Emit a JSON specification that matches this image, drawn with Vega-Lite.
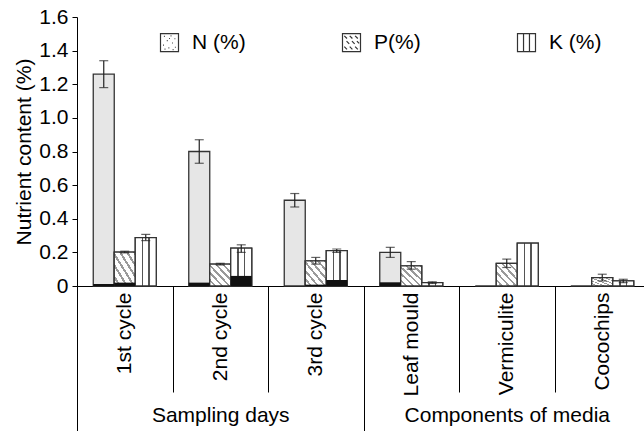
{
  "$schema": "https://vega.github.io/schema/vega-lite/v6.json",
  "autosize": {"type": "none"},
  "padding": {"left": 77, "top": 17, "right": 0, "bottom": 145},
  "width": 567,
  "height": 269,
  "background": "white",
  "config": {
    "font": "Liberation Sans",
    "view": {"stroke": null},
    "axis": {"grid": false, "domainColor": "#000", "tickColor": "#000", "labelColor": "#000", "titleColor": "#000", "labelFont": "Liberation Sans", "titleFont": "Liberation Sans"},
    "axisY": {"labelOverlap": false}
  },
  "datasets": {
    "bars": [
      {"cat": "1st cycle", "series": "N (%)", "value": 1.26, "lo": 1.18, "hi": 1.34, "base": 0.012},
      {"cat": "1st cycle", "series": "P(%)", "value": 0.202, "lo": 0.197, "hi": 0.207, "base": 0.02},
      {"cat": "1st cycle", "series": "K (%)", "value": 0.288, "lo": 0.27, "hi": 0.307, "base": 0},
      {"cat": "2nd cycle", "series": "N (%)", "value": 0.80, "lo": 0.73, "hi": 0.87, "base": 0.02},
      {"cat": "2nd cycle", "series": "P(%)", "value": 0.13, "lo": 0.125, "hi": 0.135, "base": 0},
      {"cat": "2nd cycle", "series": "K (%)", "value": 0.225, "lo": 0.20, "hi": 0.245, "base": 0.06},
      {"cat": "3rd cycle", "series": "N (%)", "value": 0.51, "lo": 0.47, "hi": 0.55, "base": 0},
      {"cat": "3rd cycle", "series": "P(%)", "value": 0.15, "lo": 0.13, "hi": 0.17, "base": 0.008},
      {"cat": "3rd cycle", "series": "K (%)", "value": 0.21, "lo": 0.20, "hi": 0.22, "base": 0.035},
      {"cat": "Leaf mould", "series": "N (%)", "value": 0.20, "lo": 0.17, "hi": 0.23, "base": 0.022},
      {"cat": "Leaf mould", "series": "P(%)", "value": 0.12, "lo": 0.10, "hi": 0.145, "base": 0},
      {"cat": "Leaf mould", "series": "K (%)", "value": 0.02, "lo": 0.015, "hi": 0.025, "base": 0},
      {"cat": "Vermiculite", "series": "N (%)", "value": 0, "lo": null, "hi": null, "base": 0},
      {"cat": "Vermiculite", "series": "P(%)", "value": 0.135, "lo": 0.11, "hi": 0.16, "base": 0},
      {"cat": "Vermiculite", "series": "K (%)", "value": 0.255, "lo": null, "hi": null, "base": 0},
      {"cat": "Cocochips", "series": "N (%)", "value": 0, "lo": null, "hi": null, "base": 0},
      {"cat": "Cocochips", "series": "P(%)", "value": 0.05, "lo": 0.03, "hi": 0.07, "base": 0},
      {"cat": "Cocochips", "series": "K (%)", "value": 0.03, "lo": 0.02, "hi": 0.04, "base": 0}
    ],
    "groups": [
      {"group": "Sampling days"},
      {"group": "Components of media"}
    ]
  },
  "layer": [
    {
      "data": {"name": "bars"},
      "layer": [
        {
          "mark": {"type": "bar", "fill": "#e6e6e6", "stroke": "#333", "strokeWidth": 1.3},
          "encoding": {
            "x": {
              "field": "cat", "type": "nominal",
              "sort": ["1st cycle", "2nd cycle", "3rd cycle", "Leaf mould", "Vermiculite", "Cocochips"],
              "scale": {"range": [0, 573], "paddingInner": 0, "paddingOuter": 0},
              "axis": {"title": null, "labelAngle": -90, "labelAlign": "right", "labelBaseline": "middle", "labelFontSize": 21, "labelPadding": -100, "labelLimit": 0, "tickBand": "extent", "tickSize": 106, "tickWidth": 1, "domainWidth": 1}
            },
            "xOffset": {
              "field": "series", "type": "nominal",
              "sort": ["N (%)", "P(%)", "K (%)"],
              "scale": {"paddingInner": 0, "paddingOuter": 0.774}
            },
            "y": {
              "field": "value", "type": "quantitative",
              "scale": {"domain": [0, 1.6], "nice": false},
              "axis": {"title": "Nutrient content (%)", "titleFontSize": 21, "titleFontWeight": "normal", "labelFontSize": 21, "values": [0, 0.2, 0.4, 0.6, 0.8, 1.0, 1.2, 1.4, 1.6], "tickCount": 9, "labelExpr": "datum.value == 0 ? '0' : format(datum.value, '.1f')", "labelOverlap": false, "labelFlush": false, "tickSize": 5, "labelPadding": 4, "titlePadding": 4, "domainWidth": 1}
            }
          }
        },
        {
          "transform": [{"filter": "datum.series === 'P(%)'"}],
          "mark": {"type": "bar", "stroke": "#333", "strokeWidth": 1.3, "fill": {"gradient": "linear", "x1": 0, "y1": 1, "x2": 1, "y2": 0, "stops": [
            {"offset": 0, "color": "#ffffff"}, {"offset": 0.11, "color": "#ffffff"}, {"offset": 0.11, "color": "#9a9a9a"}, {"offset": 0.167, "color": "#9a9a9a"},
            {"offset": 0.167, "color": "#ffffff"}, {"offset": 0.277, "color": "#ffffff"}, {"offset": 0.277, "color": "#9a9a9a"}, {"offset": 0.333, "color": "#9a9a9a"},
            {"offset": 0.333, "color": "#ffffff"}, {"offset": 0.443, "color": "#ffffff"}, {"offset": 0.443, "color": "#9a9a9a"}, {"offset": 0.5, "color": "#9a9a9a"},
            {"offset": 0.5, "color": "#ffffff"}, {"offset": 0.61, "color": "#ffffff"}, {"offset": 0.61, "color": "#9a9a9a"}, {"offset": 0.667, "color": "#9a9a9a"},
            {"offset": 0.667, "color": "#ffffff"}, {"offset": 0.777, "color": "#ffffff"}, {"offset": 0.777, "color": "#9a9a9a"}, {"offset": 0.833, "color": "#9a9a9a"},
            {"offset": 0.833, "color": "#ffffff"}, {"offset": 0.943, "color": "#ffffff"}, {"offset": 0.943, "color": "#9a9a9a"}, {"offset": 1, "color": "#9a9a9a"}
          ]}},
          "encoding": {
            "x": {"field": "cat", "type": "nominal", "sort": ["1st cycle", "2nd cycle", "3rd cycle", "Leaf mould", "Vermiculite", "Cocochips"]},
            "xOffset": {"field": "series", "type": "nominal", "sort": ["N (%)", "P(%)", "K (%)"]},
            "y": {"field": "value", "type": "quantitative"}
          }
        },
        {
          "transform": [{"filter": "datum.series === 'K (%)'"}],
          "mark": {"type": "bar", "stroke": "#333", "strokeWidth": 1.3, "fill": {"gradient": "linear", "x1": 0, "y1": 0, "x2": 1, "y2": 0, "stops": [
            {"offset": 0, "color": "#ffffff"}, {"offset": 0.30, "color": "#ffffff"}, {"offset": 0.30, "color": "#555555"}, {"offset": 0.37, "color": "#555555"},
            {"offset": 0.37, "color": "#ffffff"}, {"offset": 0.63, "color": "#ffffff"}, {"offset": 0.63, "color": "#555555"}, {"offset": 0.70, "color": "#555555"},
            {"offset": 0.70, "color": "#ffffff"}, {"offset": 1, "color": "#ffffff"}
          ]}},
          "encoding": {
            "x": {"field": "cat", "type": "nominal", "sort": ["1st cycle", "2nd cycle", "3rd cycle", "Leaf mould", "Vermiculite", "Cocochips"]},
            "xOffset": {"field": "series", "type": "nominal", "sort": ["N (%)", "P(%)", "K (%)"]},
            "y": {"field": "value", "type": "quantitative"}
          }
        },
        {
          "transform": [{"filter": "datum.base > 0"}],
          "mark": {"type": "bar", "fill": "#111", "strokeWidth": 0},
          "encoding": {
            "x": {"field": "cat", "type": "nominal", "sort": ["1st cycle", "2nd cycle", "3rd cycle", "Leaf mould", "Vermiculite", "Cocochips"]},
            "xOffset": {"field": "series", "type": "nominal", "sort": ["N (%)", "P(%)", "K (%)"]},
            "y": {"field": "base", "type": "quantitative"}
          }
        },
        {
          "transform": [{"filter": "isValid(datum.lo)"}],
          "mark": {"type": "rule", "color": "#222", "strokeWidth": 1.2},
          "encoding": {
            "x": {"field": "cat", "type": "nominal", "sort": ["1st cycle", "2nd cycle", "3rd cycle", "Leaf mould", "Vermiculite", "Cocochips"]},
            "xOffset": {"field": "series", "type": "nominal", "sort": ["N (%)", "P(%)", "K (%)"]},
            "y": {"field": "lo", "type": "quantitative"},
            "y2": {"field": "hi"}
          }
        },
        {
          "transform": [{"filter": "isValid(datum.lo)"}],
          "mark": {"type": "tick", "color": "#222", "thickness": 1.2, "size": 9},
          "encoding": {
            "x": {"field": "cat", "type": "nominal", "sort": ["1st cycle", "2nd cycle", "3rd cycle", "Leaf mould", "Vermiculite", "Cocochips"]},
            "xOffset": {"field": "series", "type": "nominal", "sort": ["N (%)", "P(%)", "K (%)"]},
            "y": {"field": "hi", "type": "quantitative"}
          }
        },
        {
          "transform": [{"filter": "isValid(datum.lo)"}],
          "mark": {"type": "tick", "color": "#222", "thickness": 1.2, "size": 9},
          "encoding": {
            "x": {"field": "cat", "type": "nominal", "sort": ["1st cycle", "2nd cycle", "3rd cycle", "Leaf mould", "Vermiculite", "Cocochips"]},
            "xOffset": {"field": "series", "type": "nominal", "sort": ["N (%)", "P(%)", "K (%)"]},
            "y": {"field": "lo", "type": "quantitative"}
          }
        },
        {
          "mark": {"type": "point", "filled": false, "opacity": 0},
          "encoding": {
            "x": {"field": "cat", "type": "nominal", "sort": ["1st cycle", "2nd cycle", "3rd cycle", "Leaf mould", "Vermiculite", "Cocochips"]},
            "xOffset": {"field": "series", "type": "nominal", "sort": ["N (%)", "P(%)", "K (%)"]},
            "y": {"field": "value", "type": "quantitative"},
            "shape": {
              "field": "series", "type": "nominal",
              "sort": ["N (%)", "P(%)", "K (%)"],
              "scale": {
                "domain": ["N (%)", "P(%)", "K (%)"],
                "range": [
                  "M-1,-1H1V1H-1Z M-0.62,-0.68h0.1 M0.12,-0.74h0.1 M0.55,-0.42h0.1 M-0.3,-0.22h0.1 M0.28,0.05h0.1 M-0.72,0.28h0.1 M0.6,0.52h0.1 M-0.12,0.6h0.1 M-0.05,-0.45h0.1 M-0.55,0.72h0.1 M0.35,0.78h0.1",
                  "M-1,-1H1V1H-1Z M-0.8,-0.75L-0.5,-0.45 M-0.2,-0.75L0.1,-0.45 M0.4,-0.75L0.7,-0.45 M-0.55,-0.15L-0.25,0.15 M0.05,-0.15L0.35,0.15 M0.6,-0.15L0.85,0.1 M-0.8,0.45L-0.5,0.75 M-0.2,0.45L0.1,0.75 M0.4,0.45L0.7,0.75",
                  "M-1,-1H1V1H-1Z M-0.33,-1V1 M0.33,-1V1"
                ]
              },
              "legend": {
                "orient": "none", "legendX": 82, "legendY": 15, "direction": "horizontal", "title": null, "symbolSize": 324, "symbolFillColor": "#ffffff", "symbolStrokeColor": "#333333", "symbolStrokeWidth": 1.2, "symbolOpacity": 1, "labelFontSize": 21, "labelFont": "Liberation Sans", "labelColor": "#000", "labelOffset": 12, "columnPadding": 94, "padding": 0
              }
            }
          }
        }
      ]
    },
    {
      "data": {"name": "groups"},
      "mark": {"type": "point", "opacity": 0},
      "encoding": {
        "x": {
          "field": "group", "type": "nominal",
          "sort": ["Sampling days", "Components of media"],
          "scale": {"range": [0, 573], "paddingInner": 0, "paddingOuter": 0},
          "axis": {"orient": "bottom", "title": null, "labelAngle": 0, "labelAlign": "center", "labelBaseline": "top", "labelFontSize": 21, "labelPadding": -27, "labelLimit": 0, "tickBand": "extent", "tickSize": 145, "tickWidth": 1, "domain": false}
        }
      }
    }
  ],
  "resolve": {"scale": {"x": "independent"}, "axis": {"x": "independent"}}
}
